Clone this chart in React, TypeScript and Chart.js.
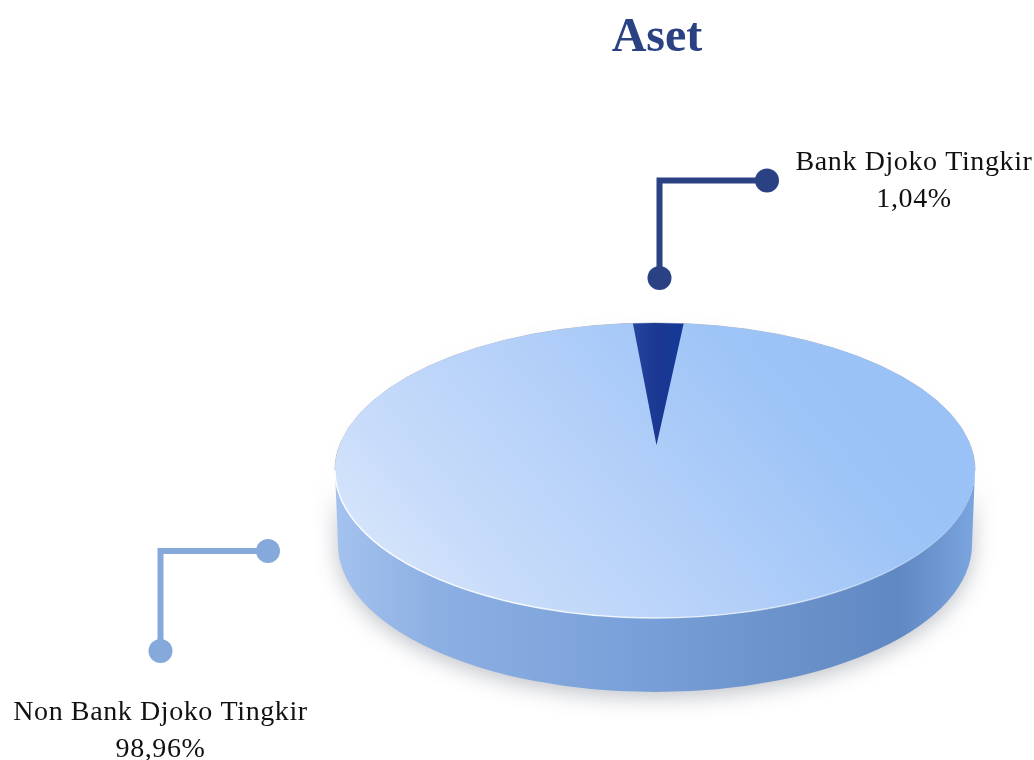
import React, { useEffect, useRef } from "react";
import { Chart, registerables } from "chart.js";

Chart.register(...registerables);

const titleText = "Aset";
const categories = ["Bank Djoko Tingkir", "Non Bank Djoko Tingkir"];
const labelValues = ["1,04%", "98,96%"];
// Slice sizes as drawn in the picture (the wedge is drawn wider than its printed 1,04%).
const drawnShares = [3.05, 96.95];

const SERIF = "'Liberation Serif', serif";
const DARK = "#2a4284";
const LIGHT = "#86a9dc";

const pieCx = 655;
const pieCy = 470.5;
const squash = 147.5 / 320;
const wedgeLift = 55;
const wedgeNudge = 1.5;

function topGradient(c: CanvasRenderingContext2D, cx: number, cy: number) {
  const g = c.createLinearGradient(cx - 320, cy + 160, cx + 240, cy - 60);
  g.addColorStop(0, "#d8e6fb");
  g.addColorStop(0.2, "#c8dcfa");
  g.addColorStop(0.5, "#b6d1f9");
  g.addColorStop(0.85, "#9fc5f7");
  g.addColorStop(1, "#9ac2f6");
  return g;
}

function wedgeGradient(c: CanvasRenderingContext2D, cx: number) {
  const g = c.createLinearGradient(cx - 30, 0, cx + 30, 0);
  g.addColorStop(0, "#27479f");
  g.addColorStop(0.5, "#1a3791");
  g.addColorStop(1, "#143a9a");
  return g;
}

function applyPieTransform(c: CanvasRenderingContext2D, chart: any) {
  const a = chart.chartArea;
  c.translate(pieCx, pieCy);
  c.scale(1, squash);
  c.translate(-(a.left + a.right) / 2, -(a.top + a.bottom) / 2);
}

const pie3d = {
  id: "pie3d",
  afterDatasetsUpdate(chart: any) {
    const arcs = chart.getDatasetMeta(0).data;
    arcs[0].y -= wedgeLift;
    arcs[0].x += wedgeNudge;
  },
  beforeDatasetsDraw(chart: any) {
    const c: CanvasRenderingContext2D = chart.ctx;
    const a = chart.chartArea;
    const cx = (a.left + a.right) / 2;
    const cy = (a.top + a.bottom) / 2;
    const r = Math.min(a.right - a.left, a.bottom - a.top) / 2;
    const ry = r * squash;

    // side wall
    c.save();
    c.shadowColor = "rgba(40,50,70,0.30)";
    c.shadowBlur = 22;
    c.shadowOffsetY = 5;
    const wall = c.createLinearGradient(pieCx - r, 0, pieCx + r, 0);
    wall.addColorStop(0, "#a4c2ee");
    wall.addColorStop(0.15, "#8db0e3");
    wall.addColorStop(0.45, "#7aa1d9");
    wall.addColorStop(0.7, "#6c92cb");
    wall.addColorStop(0.88, "#6088c2");
    wall.addColorStop(1, "#7ba5df");
    c.fillStyle = wall;
    c.beginPath();
    c.ellipse(pieCx, pieCy, r, ry, 0, 0, Math.PI);
    c.ellipse(pieCx, pieCy + 74, r - 3, ry, 0, Math.PI, 0, true);
    c.closePath();
    c.fill();
    c.restore();

    // back edge of the top disc
    c.save();
    c.shadowColor = "rgba(40,50,70,0.22)";
    c.shadowBlur = 14;
    c.beginPath();
    c.ellipse(pieCx, pieCy, r, ry, 0, Math.PI, 0);
    c.strokeStyle = "rgba(140,150,170,0.7)";
    c.lineWidth = 1;
    c.stroke();
    c.restore();

    // top disc, then the library's arcs in the same squashed space
    c.save();
    applyPieTransform(c, chart);
    c.fillStyle = topGradient(c, cx, cy);
    c.beginPath();
    c.arc(cx, cy, r, 0, Math.PI * 2);
    c.fill();
    c.clip();
  },
  afterDatasetsDraw(chart: any) {
    const c: CanvasRenderingContext2D = chart.ctx;
    c.restore();
    const a = chart.chartArea;
    const r = Math.min(a.right - a.left, a.bottom - a.top) / 2;
    const ry = r * squash;

    // bright rim along the front edge
    const rim = c.createLinearGradient(pieCx - r, 0, pieCx + r, 0);
    rim.addColorStop(0, "rgba(255,255,255,0.9)");
    rim.addColorStop(0.55, "rgba(255,255,255,0.75)");
    rim.addColorStop(0.85, "rgba(255,255,255,0.35)");
    rim.addColorStop(1, "rgba(255,255,255,0)");
    c.save();
    c.strokeStyle = rim;
    c.lineWidth = 1.5;
    c.beginPath();
    c.ellipse(pieCx, pieCy, r, ry, 0, 0.1, Math.PI);
    c.stroke();
    c.restore();
  },
  afterDraw(chart: any) {
    const c: CanvasRenderingContext2D = chart.ctx;
    const leader = (
      color: string,
      corner: [number, number],
      endA: [number, number],
      endB: [number, number],
      w: number
    ) => {
      c.save();
      c.strokeStyle = color;
      c.fillStyle = color;
      c.lineWidth = w;
      c.lineJoin = "miter";
      c.beginPath();
      c.moveTo(endA[0], endA[1]);
      c.lineTo(corner[0], corner[1]);
      c.lineTo(endB[0], endB[1]);
      c.stroke();
      for (const p of [endA, endB]) {
        c.beginPath();
        c.arc(p[0], p[1], 12, 0, Math.PI * 2);
        c.fill();
      }
      c.restore();
    };
    leader(DARK, [659.5, 180.5], [767, 180.5], [659.5, 278], 6);
    leader(LIGHT, [160.5, 551], [268, 551], [160.5, 651], 6);

    c.save();
    c.fillStyle = "#111111";
    c.textAlign = "center";
    c.textBaseline = "alphabetic";
    c.font = `28px ${SERIF}`;
    (c as any).letterSpacing = "0.6px";
    c.fillText(categories[0], 914, 170);
    c.fillText(labelValues[0], 914, 207);
    c.fillText(categories[1], 160.5, 720);
    c.fillText(labelValues[1], 160.5, 757);
    c.restore();
  },
};

export default function App() {
  const ref = useRef<HTMLCanvasElement>(null);
  useEffect(() => {
    document.body.style.margin = "0";
    const chart = new Chart(ref.current as HTMLCanvasElement, {
      type: "pie",
      data: {
        labels: categories,
        datasets: [
          {
            data: drawnShares,
            borderWidth: 0,
            backgroundColor: (ctx: any) => {
              const ch = ctx.chart;
              const a = ch.chartArea;
              if (!a) return "#b4d0f9";
              const cx = (a.left + a.right) / 2;
              const cy = (a.top + a.bottom) / 2;
              return ctx.dataIndex === 0
                ? wedgeGradient(ch.ctx, cx + 3)
                : topGradient(ch.ctx, cx, cy);
            },
          },
        ],
      },
      options: {
        responsive: false,
        animation: false,
        rotation: -5.1,
        layout: { padding: { left: 337, right: 57, top: 0, bottom: 0 } },
        plugins: {
          legend: { display: false },
          tooltip: { enabled: false },
          title: {
            display: true,
            text: titleText,
            fullSize: false,
            color: DARK,
            font: { family: SERIF, size: 48, weight: "bold", lineHeight: 1.2 },
            padding: { top: 10, bottom: 0 },
          },
        },
      },
      plugins: [pie3d],
    } as any);
    return () => chart.destroy();
  }, []);
  return (
    <div style={{ width: 1034, height: 760 }}>
      <canvas ref={ref} width={1034} height={760} style={{ display: "block" }} />
    </div>
  );
}
